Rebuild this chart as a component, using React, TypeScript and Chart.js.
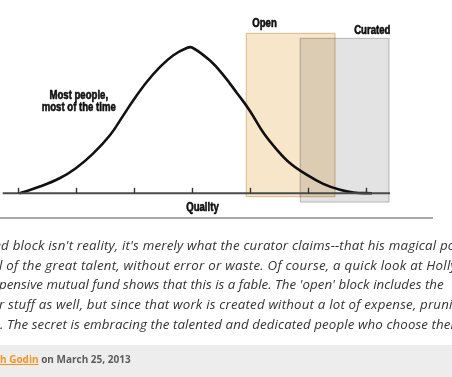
import React, { useEffect, useRef } from "react";
import { Chart, registerables } from "chart.js";

Chart.register(...registerables);

// Bell curve (x in tick units, y relative to the peak = 100)
const curveX = [-2.97, -2.62, -2.28, -2.0, -1.7, -1.41, -1.18, -1.01, -0.78, -0.55, -0.32, -0.1, 0, 0.31, 0.54, 0.77, 0.99, 1.23, 1.46, 1.69, 1.98, 2.26, 2.55, 2.78, 3.1];
const curveY = [0, 4.6, 10.3, 17.2, 27.4, 40, 53.6, 63.8, 76.3, 86.7, 94.7, 99.5, 100, 91, 81, 69, 57, 41.5, 30, 20.6, 12.6, 6.5, 2.4, 0.6, 0];

const tickValues = [-3, -2, -1, 0, 1, 2, 3];
const axisRange = [-3.26, 3.41];

const openX = [0.935, 2.463];
const openY = [-2.3, 109.7];
const curatedX = [1.865, 3.392];
const curatedY = [-6.0, 106.3];

const openLabel = "Open";
const curatedLabel = "Curated";
const axisLabel = "Quality";
const crowdLabel = ["Most people,", "most of the time"];

const bodyLines = [
  "ed block isn't reality, it's merely what the curator claims--that his magical powers",
  "l of the great talent, without error or waste. Of course, a quick look at Hollywood",
  "pensive mutual fund shows that this is a fable. The 'open' block includes the",
  "r stuff as well, but since that work is created without a lot of expense, pruning",
  ". The secret is embracing the talented and dedicated people who choose them",
];
const authorLink = "h Godin";
const postDate = " on March 25, 2013";

function rect(xs: number[], ys: number[]) {
  return [
    { x: xs[0], y: ys[0] },
    { x: xs[0], y: ys[1] },
    { x: xs[1], y: ys[1] },
    { x: xs[1], y: ys[0] },
    { x: xs[0], y: ys[0] },
  ];
}

const LABEL_FONT = "bold 12px 'Liberation Sans', Arial, sans-serif";
const NARROW = 0.8;

function narrowText(ctx: CanvasRenderingContext2D, text: string, x: number, y: number, align: CanvasTextAlign) {
  ctx.save();
  ctx.translate(x, y);
  ctx.scale(NARROW, 1);
  ctx.textAlign = align;
  ctx.lineWidth = 0.6;
  ctx.lineJoin = "round";
  ctx.strokeText(text, 0, 0);
  ctx.fillText(text, 0, 0);
  ctx.restore();
}

const decorPlugin = {
  id: "decor",
  beforeDatasetsDraw(chart: any) {
    chart.ctx.save();
    chart.ctx.globalCompositeOperation = "multiply";
  },
  afterDatasetsDraw(chart: any) {
    const ctx = chart.ctx;
    ctx.restore();
    const xs = chart.scales.x;
    const ys = chart.scales.y;
    const y0 = ys.getPixelForValue(0);
    // axis line
    ctx.save();
    ctx.strokeStyle = "#4a4a4a";
    ctx.lineWidth = 2;
    ctx.beginPath();
    ctx.moveTo(xs.getPixelForValue(axisRange[0]), y0);
    ctx.lineTo(xs.getPixelForValue(axisRange[1]), y0);
    ctx.stroke();
    // ticks (pointing up)
    ctx.strokeStyle = "#333";
    ctx.lineWidth = 1.4;
    for (const t of tickValues) {
      const px = Math.round(xs.getPixelForValue(t)) + 0.5;
      ctx.beginPath();
      ctx.moveTo(px, y0);
      ctx.lineTo(px, y0 - 5.5);
      ctx.stroke();
    }
    // labels
    ctx.fillStyle = "#111";
    ctx.strokeStyle = "#111";
    ctx.font = LABEL_FONT;
    ctx.textBaseline = "alphabetic";
    narrowText(ctx, openLabel, xs.getPixelForValue(openX[0]) + 6, ys.getPixelForValue(openY[1]) - 6.6, "left");
    narrowText(ctx, curatedLabel, xs.getPixelForValue(curatedX[1]) + 1.5, ys.getPixelForValue(curatedY[1]) - 4.3, "right");
    narrowText(ctx, axisLabel, xs.getPixelForValue(0.18), y0 + 17.4, "center");
    const cx = xs.getPixelForValue(-1.95);
    narrowText(ctx, crowdLabel[0], cx, ys.getPixelForValue(64.5), "center");
    narrowText(ctx, crowdLabel[1], cx, ys.getPixelForValue(56.7), "center");
    ctx.restore();
  },
};

function BellChart() {
  const ref = useRef<HTMLCanvasElement | null>(null);
  useEffect(() => {
    if (!ref.current) return;
    const chart = new Chart(ref.current, {
      type: "line",
      data: {
        datasets: [
          {
            label: "Quality",
            data: curveX.map((x, i) => ({ x, y: curveY[i] })),
            borderColor: "#111",
            borderWidth: 2.6,
            pointRadius: 0,
            tension: 0.4,
            fill: false,
          },
          {
            label: curatedLabel,
            data: rect(curatedX, curatedY),
            borderColor: "#cdcdcd",
            backgroundColor: "#e3e3e3",
            borderWidth: 1.3,
            pointRadius: 0,
            tension: 0,
            fill: "shape",
          },
          {
            label: openLabel,
            data: rect(openX, openY),
            borderColor: "#e4d0b0",
            backgroundColor: "#f7e6ca",
            borderWidth: 1.3,
            pointRadius: 0,
            tension: 0,
            fill: "shape",
          },
        ],
      },
      options: {
        animation: false,
        responsive: true,
        maintainAspectRatio: false,
        layout: { padding: { left: 2.7, right: 62, top: 25.6, bottom: 15.04 } },
        plugins: { legend: { display: false }, tooltip: { enabled: false } },
        scales: {
          x: { type: "linear", display: false, min: axisRange[0], max: axisRange[1] },
          y: { type: "linear", display: false, min: -8, max: 115 },
        },
      },
      plugins: [decorPlugin],
    } as any);
    return () => chart.destroy();
  }, []);
  return (
    <div style={{ position: "absolute", left: 0, top: 0, width: 452, height: 220 }}>
      <canvas ref={ref} />
    </div>
  );
}

export default function App() {
  const lineLeft = [-5.7, -1, -1, -1, 0];
  const lineTop = [235.2, 255.1, 274.4, 294.3, 313.8];
  const lineSpacing = [0.19, 0.25, 0.03, 0.19, 0.1];
  return (
    <div
      style={{
        position: "fixed",
        left: 0,
        top: 0,
        width: 452,
        height: 377,
        overflow: "hidden",
        background: "#fff",
      }}
    >
      <BellChart />
      <div style={{ position: "absolute", left: 0, top: 217, width: 433, height: 2, background: "#a9a9a9" }} />
      {bodyLines.map((t, i) => (
        <div
          key={i}
          style={{
            position: "absolute",
            left: lineLeft[i],
            top: lineTop[i],
            whiteSpace: "nowrap",
            fontFamily: "'Open Sans', sans-serif",
            fontStyle: "italic",
            fontSize: 13.3,
            letterSpacing: lineSpacing[i],
            lineHeight: "20px",
            color: "#333",
          }}
        >
          {t}
        </div>
      ))}
      <div style={{ position: "absolute", left: 0, top: 345, width: 452, height: 32, background: "#ededed" }}>
        <div
          style={{
            position: "absolute",
            left: 0,
            top: 6.8,
            whiteSpace: "nowrap",
            fontFamily: "'Open Sans', sans-serif",
            fontWeight: 700,
            fontSize: 10,
            lineHeight: "14px",
            color: "#5d5d5d",
          }}
        >
          <span style={{ color: "#f7931e", textDecoration: "underline" }}>{authorLink}</span>
          {postDate}
        </div>
      </div>
    </div>
  );
}
